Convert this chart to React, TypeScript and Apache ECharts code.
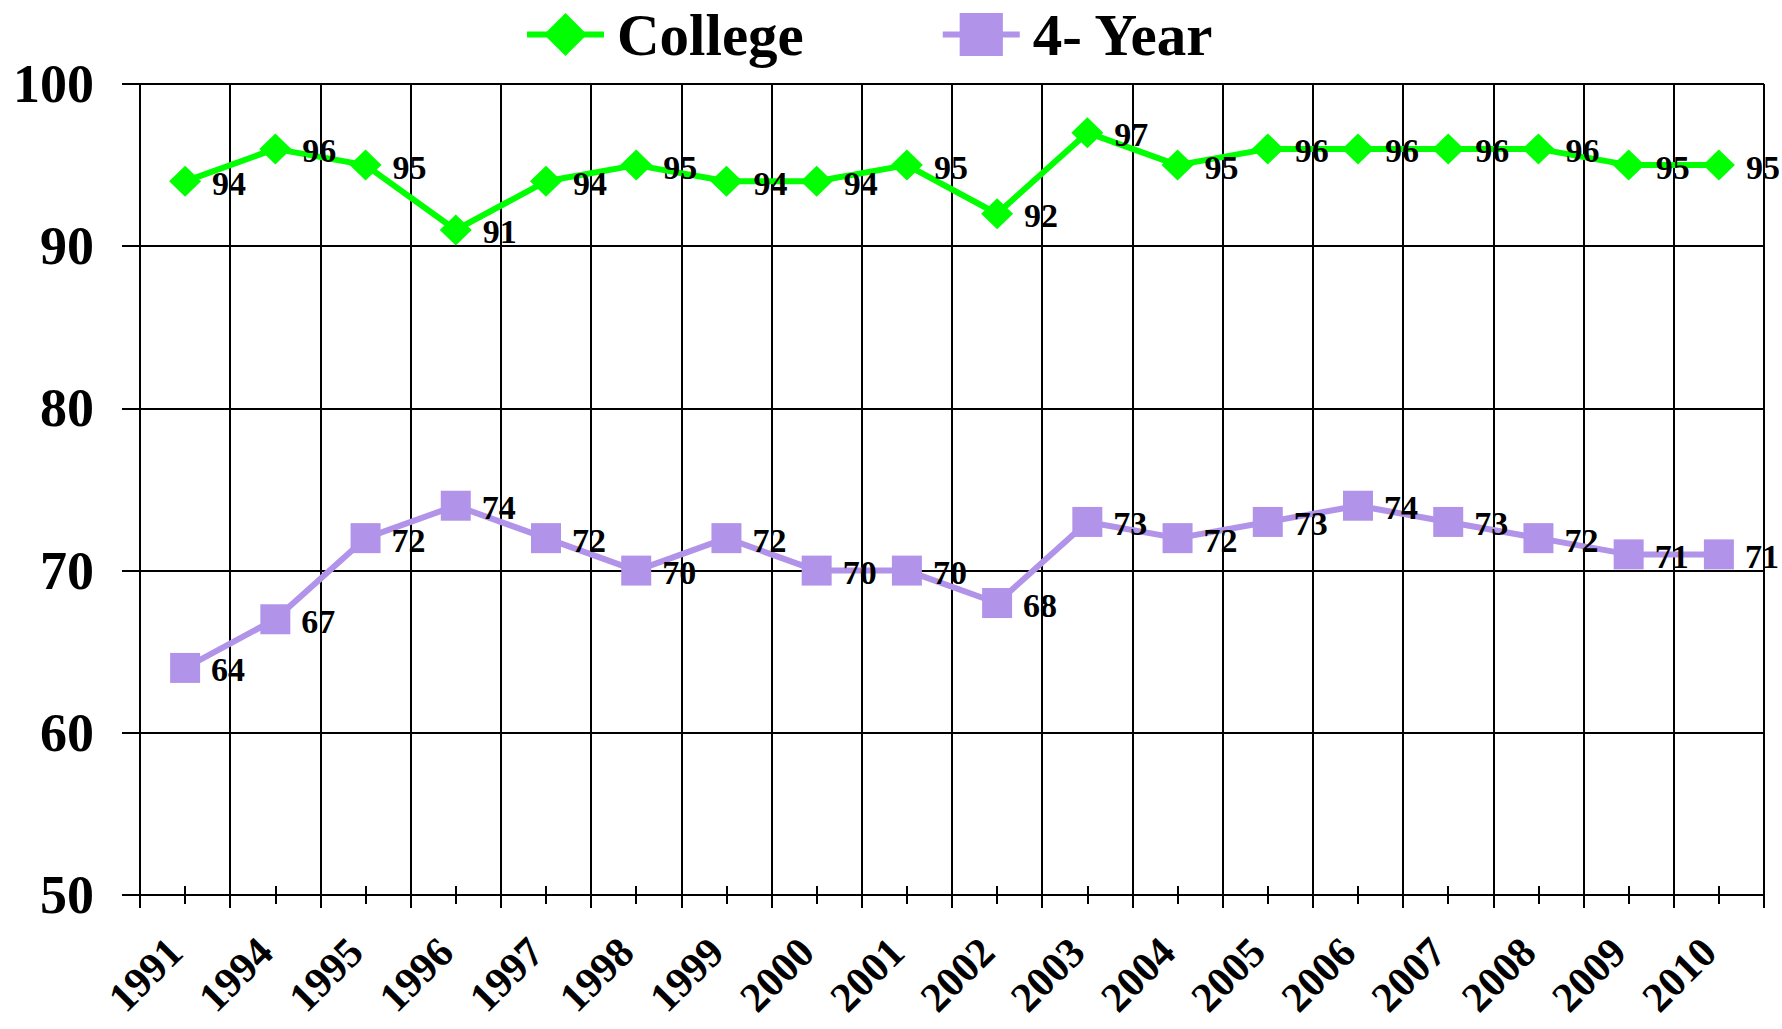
import React, { useEffect, useRef } from "react";
import * as echarts from "echarts";

const categories = ["1991", "1994", "1995", "1996", "1997", "1998", "1999", "2000", "2001", "2002", "2003", "2004", "2005", "2006", "2007", "2008", "2009", "2010"];
const collegeValues = [94, 96, 95, 91, 94, 95, 94, 94, 95, 92, 97, 95, 96, 96, 96, 96, 95, 95];
const fourYearValues = [64, 67, 72, 74, 72, 70, 72, 70, 70, 68, 73, 72, 73, 74, 73, 72, 71, 71];
const seriesNames = ["College", "4- Year"];

const FONT = "'Liberation Serif', 'Times New Roman', serif";
const GREEN = "#00ff00";
const PURPLE = "#b293ea";

export default function App() {
  const ref = useRef<HTMLDivElement>(null);
  useEffect(() => {
    if (!ref.current) return;
    const chart = echarts.init(ref.current, null, { renderer: "svg" });
    const labelCfg = {
      show: true,
      position: "right",
      distance: 11,
      offset: [0, 2],
      color: "#000",
      fontFamily: FONT,
      fontWeight: "bold",
      fontSize: 34,
    };
    chart.setOption({
      animation: false,
      backgroundColor: "#fff",
      legend: {
        top: 0,
        left: 519,
        itemWidth: 77,
        itemHeight: 54,
        itemGap: 136,
        lineStyle: { width: 6 },
        textStyle: {
          fontFamily: FONT,
          fontWeight: "bold",
          fontSize: 59,
          lineHeight: 54,
          color: "#000",
          padding: [0, 0, 0, 8],
        },
        data: seriesNames,
      },
      grid: { left: 140, right: 18, top: 84, bottom: 134, containLabel: false, outerBoundsMode: "none" },
      xAxis: [
        {
          type: "category",
          data: categories,
          boundaryGap: true,
          axisLine: { show: true, lineStyle: { color: "#000", width: 2 } },
          axisTick: { show: true, alignWithLabel: false, length: 13, inside: false, lineStyle: { color: "#000", width: 2 } },
          splitLine: { show: true, lineStyle: { color: "#000", width: 2 } },
          axisLabel: {
            rotate: 45,
            margin: 40,
            interval: 0,
            padding: [0, 14, 0, 0],
            color: "#000",
            fontFamily: FONT,
            fontWeight: "bold",
            fontSize: 42,
          },
        },
        {
          type: "category",
          data: categories,
          position: "bottom",
          offset: -9,
          boundaryGap: true,
          axisLine: { show: false },
          axisTick: { show: true, alignWithLabel: true, length: 18, lineStyle: { color: "#000", width: 2 } },
          splitLine: { show: false },
          axisLabel: { show: false },
        },
      ],
      yAxis: {
        type: "value",
        min: 50,
        max: 100,
        interval: 10,
        axisLine: { show: true, lineStyle: { color: "#000", width: 2 } },
        axisTick: { show: true, length: 18, lineStyle: { color: "#000", width: 2 } },
        splitLine: { show: true, lineStyle: { color: "#000", width: 2 } },
        axisLabel: {
          margin: 46,
          color: "#000",
          fontFamily: FONT,
          fontWeight: "bold",
          fontSize: 54,
        },
      },
      series: [
        {
          name: seriesNames[0],
          type: "line",
          xAxisIndex: 0,
          data: collegeValues,
          symbol: "diamond",
          symbolSize: [32, 31],
          color: GREEN,
          lineStyle: { color: GREEN, width: 6 },
          itemStyle: { color: GREEN },
          label: labelCfg,
          z: 3,
        },
        {
          name: seriesNames[1],
          type: "line",
          xAxisIndex: 0,
          data: fourYearValues,
          symbol: "rect",
          symbolSize: 30,
          color: PURPLE,
          lineStyle: { color: PURPLE, width: 6 },
          itemStyle: { color: PURPLE },
          label: labelCfg,
          z: 3,
        },
      ],
    });
    return () => chart.dispose();
  }, []);
  return <div ref={ref} style={{ width: 1782, height: 1029, position: "absolute", left: 0, top: 0 }} />;
}
